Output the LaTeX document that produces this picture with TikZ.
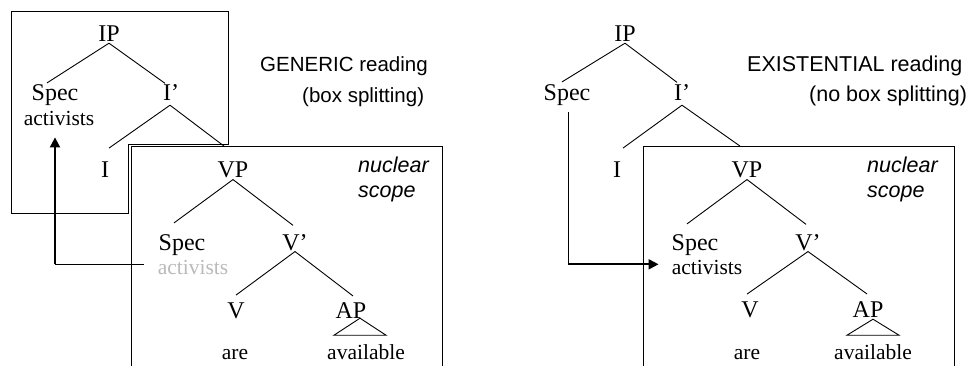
\documentclass[tikz,border=0pt]{standalone}
\usepackage{fontspec}
\setmainfont{Liberation Serif}
\newfontfamily\arialf{Liberation Sans}
\usetikzlibrary{arrows.meta,calc}
\begin{document}
\begin{tikzpicture}[x=1pt,y=-1pt,
  lab/.style={anchor=base, inner sep=0pt, font=\fontsize{24}{28}\selectfont},
  word/.style={anchor=base, inner sep=0pt, font=\fontsize{21.5}{26}\selectfont},
  title/.style={anchor=base west, inner sep=0pt, font=\arialf\fontsize{21.5}{26}\selectfont},
  ltitle/.style={anchor=base west, inner sep=0pt, font=\arialf\fontsize{20.5}{25}\selectfont},
  nuc/.style={anchor=base west, inner sep=0pt, font=\arialf\itshape\fontsize{21.5}{26}\selectfont},
  edge/.style={line width=0.9pt},
  boxline/.style={line width=1pt},
  movethin/.style={line width=1pt},
  movethick/.style={line width=1.8pt, -{Triangle[length=10pt,width=10pt]}},
  tri/.style={line width=0.9pt, line join=miter}
]
\useasboundingbox (0,0) rectangle (971,366);

% ================= LEFT: GENERIC =================
\draw[boxline] (11,12) -- (228,12) -- (228,145) -- (128,145) -- (128,213) -- (11,213) -- cycle;
\draw[boxline] (131,366) -- (131,147) -- (442,147) -- (442,366);

\node[lab] (lIP) at (109,42) {IP};
\node[lab] (lSpec) at (55,101) {Spec};
\node[word] (lact) at (59,126) {activists};
\node[lab] (lIb) at (171,101) {I’};
\node[lab] (lI) at (105,178) {I};
\node[lab] (lVP) at (233,178) {VP};
\node[lab] (lSpec2) at (182,250) {Spec};
\node[word, text=black!27] (lact2) at (193,274) {activists};
\node[lab] (lVb) at (295,250) {V’};
\node[lab] (lV) at (236,318) {V};
\node[lab] (lAP) at (351,318) {AP};
\node[word] (lare) at (235,359) {are};
\node[word] (lavail) at (366,359) {available};

\node[ltitle] (lt1) at (260,71.5) {GENERIC reading};
\node[ltitle] (lt2) at (302,102.5) {(box splitting)};
\node[nuc] (ln1) at (358,173) {nuclear};
\node[nuc] (ln2) at (358,197) {scope};

\draw[edge] ($(lIP.south)+(0,1)$) -- ($(lSpec.north)+(-8,-2)$);
\draw[edge] ($(lIP.south)+(0,1)$) -- ($(lIb.north)+(-6,-1.5)$);
\draw[edge] ($(lIb.south)+(-1,4)$) -- ($(lI.north)+(4,-14)$);
\draw[edge] ($(lIb.south)+(-1,4)$) -- ($(lVP.north)+(-9,-16)$);
\draw[edge] ($(lVP.south)+(0,1)$) -- ($(lSpec2.north)+(-8,-11)$);
\draw[edge] ($(lVP.south)+(0,1)$) -- ($(lVb.north)+(-2,-8.5)$);
\draw[edge] ($(lVb.south)+(0,1)$) -- ($(lV.north)+(0,-7)$);
\draw[edge] ($(lVb.south)+(0,1)$) -- ($(lAP.north)+(2,-6)$);
\draw[tri] ($(lAP.south)+(9,0)$) -- ($(lAP.south)+(-17,17)$) -- ($(lAP.south)+(35,17)$) -- cycle;

\coordinate (la1) at ($(lact.south)+(-4,138)$);
\coordinate (lx) at ($(lact2.west)+(-14,0)$);
\coordinate (la0) at (la1 -| lx);
\draw[movethin] (la0) -- (la1);
\draw[movethick] (la1) -- ($(lact.south)+(-4,11)$);

% ================= RIGHT: EXISTENTIAL =================
\draw[boxline] (643,366) -- (643,147) -- (954,147) -- (954,366);

\node[lab] (rIP) at (625,42) {IP};
\node[lab] (rSpec) at (567,101) {Spec};
\node[lab] (rIb) at (682,101) {I’};
\node[lab] (rI) at (617,178) {I};
\node[lab] (rVP) at (747,178) {VP};
\node[lab] (rSpec2) at (695,250) {Spec};
\node[word] (ract) at (707,274) {activists};
\node[lab] (rVb) at (808,250) {V’};
\node[lab] (rV) at (750,317) {V};
\node[lab] (rAP) at (868,317) {AP};
\node[word] (rare) at (747,359) {are};
\node[word] (ravail) at (873,359) {available};

\node[title] (rt1) at (747,72) {EXISTENTIAL reading};
\node[title] (rt2) at (809,102) {(no box splitting)};
\node[nuc] (rn1) at (867,173) {nuclear};
\node[nuc] (rn2) at (867,197) {scope};

\draw[edge] ($(rIP.south)+(0,1)$) -- ($(rSpec.north)+(-5,-3)$);
\draw[edge] ($(rIP.south)+(0,1)$) -- ($(rIb.north)+(-5,-2.5)$);
\draw[edge] ($(rIb.south)+(0,4)$) -- ($(rI.north)+(6,-14)$);
\draw[edge] ($(rIb.south)+(0,4)$) -- ($(rVP.north)+(-7,-16)$);
\draw[edge] ($(rVP.south)+(0,1)$) -- ($(rSpec2.north)+(-8,-10)$);
\draw[edge] ($(rVP.south)+(0,1)$) -- ($(rVb.north)+(-2,-9.5)$);
\draw[edge] ($(rVb.south)+(0,1)$) -- ($(rV.north)+(-3,-7)$);
\draw[edge] ($(rVb.south)+(0,1)$) -- ($(rAP.north)+(-1,-7)$);
\draw[tri] ($(rAP.south)+(5,2)$) -- ($(rAP.south)+(-21,18)$) -- ($(rAP.south)+(31,18)$) -- cycle;

\coordinate (ra0) at ($(rSpec.south)+(1,6)$);
\coordinate (ra1) at ($(rSpec.south)+(1,158)$);
\coordinate (rx) at ($(ract.west)+(-13,0)$);
\coordinate (ra2) at (ra1 -| rx);
\draw[movethin] (ra0) -- (ra1);
\draw[movethick] (ra1) -- (ra2);
\end{tikzpicture}
\end{document}
